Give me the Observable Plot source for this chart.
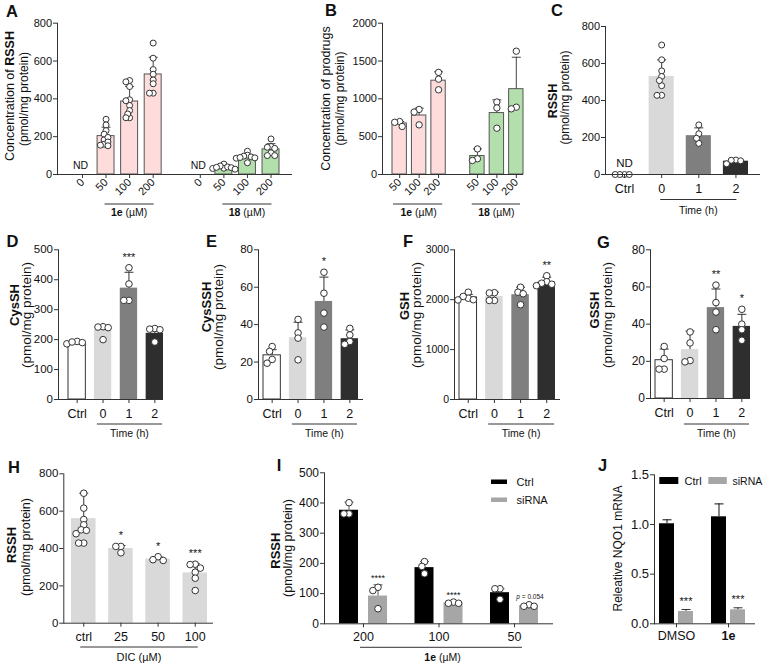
<!DOCTYPE html>
<html><head><meta charset="utf-8">
<script src="https://cdn.jsdelivr.net/npm/d3@7"></script>
<script src="https://cdn.jsdelivr.net/npm/@observablehq/plot@0.6"></script>
<style>
html,body{margin:0;padding:0;background:#fff;}
#fig{position:relative;width:764px;height:665px;overflow:hidden;background:#fff;font-family:"Liberation Sans",Arial,sans-serif;}
#fig svg{overflow:visible;}
</style></head>
<body><div id="fig"></div>
<script>
// ---------------- DATA ----------------
// Panel A: RSSH concentration (pmol/mg protein)
const aDoses = ["0", "50", "100", "200"];
const a1eMean = [null, 203, 386, 529];
const a1eSD = [null, 47, 79, 91];
const a1ePts = [[], [292,262,232,213,196,183,172,160,152,155], [497,490,465,395,390,365,338,320,300,300], [695,615,555,530,500,480,430,430]];
const a18Mean = [null, 38, 93, 133];
const a18SD = [null, 11, 13, 30];
const a18Pts = [[], [55,45,40,36,32,28,33,38], [123,102,97,93,90,86,62,88], [188,148,144,138,115,100,100]];
const aYTicks = [0, 200, 400, 600, 800];
// Panel B: prodrug concentration
const bDoses = ["50", "100", "200"];
const b1eMean = [675, 780, 1240];
const b1eSD = [25, 97, 117];
const b1ePts = [[700,690,635], [860,825,656], [1350,1260,1120]];
const b18Mean = [244, 812, 1128];
const b18SD = [95, 175, 422];
const b18Pts = [[338,185,208], [958,880,612], [1630,868,890]];
const bYTicks = [0, 500, 1000, 1500, 2000];
// Time-course categories (C-G)
const timeCats = ["Ctrl", "0", "1", "2"];
const cMean = [null, 530, 210, 72];
const cSD = [null, 90, 42, 9];
const cPts = [[0,0,0,0], [700,620,560,530,508,480,428,428], [268,220,196,168], [78,58,74,77]];
const cYTicks = [0, 200, 400, 600, 800];
const dMean = [190, 231, 372, 221];
const dSD = [5, 15, 53, 17];
const dPts = [[194,190,186,192], [243,242,240,200], [440,386,331,331], [237,235,233,192]];
const dStars = ["", "", "***", ""];
const dYTicks = [0, 100, 200, 300, 400, 500];
const eMean = [23.6, 33, 52.4, 32.5];
const eSD = [3, 8.3, 13, 4.7];
const ePts = [[28.3,25.7,21.4,19.4], [42.8,35.6,32.8,21.2], [68,56.8,46.2,38.7], [38,34.5,31,29.5]];
const eStars = ["", "", "*", ""];
const eYTicks = [0, 20, 40, 60, 80];
const fMean = [2045, 2062, 2100, 2352];
const fSD = [60, 88, 150, 98];
const fPts = [[2150,2065,2030,2000,1995], [2140,2135,1985,1985], [2250,2150,2120,1900], [2480,2360,2330,2310,2280]];
const fStars = ["", "", "", "**"];
const fYTicks = [0, 1000, 2000, 3000];
const gMean = [20.6, 26.3, 48.9, 38.8];
const gSD = [6, 10, 10, 6.5];
const gPts = [[28,21.5,15.8,15.8], [35.8,29.9,19.7,20.4], [61,51.6,46.5,37], [48,40,37,31.3]];
const gStars = ["", "", "**", "*"];
const gYTicks = [0, 20, 40, 60, 80];
// Panel H: DIC
const hCats = ["ctrl", "25", "50", "100"];
const hMean = [560, 400, 343, 269];
const hSD = [136, 16, 12, 50];
const hPts = [[696,616,555,527,500,497,479,429,429], [411,411,377], [356,336,340], [316,314,295,273,241,175]];
const hStars = ["", "*", "*", "***"];
const hYTicks = [0, 200, 400, 600, 800];
// Panel I: siRNA
const iDoses = ["200", "100", "50"];
const iCtrlMean = [376, 186, 103];
const iCtrlSD = [27, 20, 13];
const iCtrlPts = [[401,364,364], [206,190,166], [116,116,81]];
const iSiMean = [92, 69, 60];
const iSiSD = [37, 5, 3];
const iSiPts = [[121,110,50], [72,68,68], [63,58,58]];
const iSiLabels = ["****", "****", "p = 0.054"];
const iYTicks = [0, 100, 200, 300, 400, 500];
// Panel J: NQO1 mRNA
const jGroups = ["DMSO", "1e"];
const jCtrlMean = [1.007, 1.077];
const jCtrlSD = [0.04, 0.13];
const jSiMean = [0.124, 0.141];
const jSiSD = [0.02, 0.02];
const jSiLabels = ["***", "***"];
const jYTicks = [0, 0.5, 1.0, 1.5];

// ---------------- STYLE ----------------
const FONT = "'Liberation Sans', Arial, Helvetica, sans-serif";
const INK = "#111";
const AXC = "#333";
const PINK = "#fddcdb", GREEN = "#b3dfad", BARLINE = "#555";
const TIME_FILLS = ["#ffffff", "#d9d9d9", "#7f7f7f", "#2e2e2e"];
const TIME_STROKES = ["#333", "none", "none", "none"];
const fig = document.getElementById("fig");
const capSym = {draw(ctx, size) { const w = Math.sqrt(size / Math.PI); ctx.moveTo(-w, 0); ctx.lineTo(w, 0); }};

// beeswarm-style horizontal offsets (pixels) so that points at similar values sit side by side
function dodge(vals, yMax, fh, r, tight = 0.78) {
  const d = 2 * r * tight, s = d * 0.5;
  const order = d3.range(vals.length).sort((a, b) => d3.descending(vals[a], vals[b]));
  const placed = [], off = [];
  for (const i of order) {
    const py = vals[i] / yMax * fh;
    let k = 0, x = 0;
    while (true) {
      x = k === 0 ? 0 : (k % 2 ? -1 : 1) * Math.ceil(k / 2) * s;
      if (placed.every(p => Math.hypot(p.x - x, p.y - py) >= d)) break;
      k++;
    }
    placed.push({x, y: py});
    off[i] = Math.round(x * 10) / 10;
  }
  return off;
}

function geom(cfg) {
  const [L, T, W, H] = cfg.box, [x0, x1, y0, y1] = cfg.frame;
  return {L, T, W, H, ml: x0 - L, mr: L + W - x1, mt: y0 - T, mb: T + H - y1, fw: x1 - x0, fh: y1 - y0};
}

function basePlot(cfg, g, marks) {
  return Plot.plot({
    width: g.W, height: g.H,
    marginLeft: g.ml, marginRight: g.mr, marginTop: g.mt, marginBottom: g.mb,
    style: {fontFamily: FONT, color: INK, background: "transparent", overflow: "visible"},
    x: {type: "band", domain: cfg.domain, paddingInner: cfg.pI, paddingOuter: 0, insetLeft: cfg.insL, insetRight: cfg.insR, round: false},
    y: {domain: [0, cfg.yMax]},
    color: {type: "identity"},
    marks: [
      ...marks,
      Plot.ruleY([0], {stroke: AXC, strokeWidth: 1}),
      Plot.frame({anchor: "left", stroke: AXC, strokeWidth: 1}),
      Plot.axisY({ticks: cfg.yTicks, tickSize: 4, tickPadding: 1.5, fontSize: cfg.yFont, label: null, tickFormat: cfg.yFmt || "d", stroke: AXC}),
      Plot.axisX({ticks: cfg.tickKeys || cfg.domain, tickFormat: cfg.tickFormat || (d => d), tickRotate: cfg.rotate || 0, tickSize: 4, tickPadding: cfg.xPad ?? 6, fontSize: cfg.xFont, label: null, stroke: AXC})
    ]
  });
}

function mount(cfg, plot) {
  const [L, T, W, H] = cfg.box;
  const div = document.createElement("div");
  div.style.cssText = `position:absolute;left:${L}px;top:${T}px;width:${W}px;height:${H}px;`;
  div.appendChild(plot);
  fig.appendChild(div);
  const sel = d3.select(plot);
  const xs = plot.scale("x");
  return {
    cx: k => xs.apply(k) + xs.bandwidth / 2 + L,
    x0: k => xs.apply(k) + L,
    x1: k => xs.apply(k) + xs.bandwidth + L,
    text(gx, gy, parts, {size = 11, anchor = "middle", rotate = 0} = {}) {
      const x = gx - L, y = gy - T;
      const t = sel.append("text").attr("x", x).attr("y", y).attr("text-anchor", anchor)
        .attr("font-size", size).attr("font-family", FONT).attr("fill", INK);
      if (rotate) t.attr("transform", `rotate(${rotate} ${x} ${y})`);
      for (const p of parts) {
        const [s, st] = Array.isArray(p) ? p : [p, ""];
        const ts = t.append("tspan").text(s);
        if (st.includes("b")) ts.attr("font-weight", "bold");
        if (st.includes("i")) ts.attr("font-style", "italic");
      }
      return t;
    },
    line(gx1, gx2, gy) {
      sel.append("line").attr("x1", gx1 - L).attr("x2", gx2 - L).attr("y1", gy - T).attr("y2", gy - T)
        .attr("stroke", AXC).attr("stroke-width", 1);
    },
    rect(gx, gy, w, h, fill) {
      sel.append("rect").attr("x", gx - L).attr("y", gy - T).attr("width", w).attr("height", h).attr("fill", fill);
    },
    sel
  };
}

function ylabel(p, x1, y1, parts1, x2, y2, s1 = 12, s2 = 11.5) {
  p.text(x1, y1, parts1, {size: s1, rotate: -90});
  if (x2 != null) p.text(x2, y2, ["(pmol/mg protein)"], {size: s2, rotate: -90});
}
function letter(p, x, y, s) { p.text(x, y, [[s, "b"]], {size: 16.5, anchor: "start"}); }

// single-series bar panel with scatter points
function simplePanel(cfg) {
  const g = geom(cfg);
  const r = cfg.r ?? 3.2;
  const bars = cfg.rows.filter(d => d.m != null);
  const dots = [];
  cfg.rows.forEach(d => {
    const off = dodge(d.pts, cfg.yMax, g.fh, r, cfg.tight);
    d.pts.forEach((v, j) => dots.push({x: d.x, v, dx: off[j]}));
  });
  const errC = cfg.errColor || AXC;
  const top = d => Math.max(d.m + d.sd, d3.max(d.pts) ?? 0);
  const marks = [
    Plot.barY(bars, {x: "x", y: "m", fill: "fill", stroke: "stroke", strokeWidth: 1}),
    Plot.ruleX(bars, {x: "x", y1: "m", y2: d => d.m + d.sd, stroke: errC, strokeWidth: 1}),
    Plot.dot(bars, {x: "x", y: d => d.m + d.sd, symbol: capSym, r: cfg.cap ?? 4.5, stroke: errC, strokeWidth: 1, fill: "none"}),
    ...d3.groups(dots, d => d.dx).map(([dx, gg]) =>
      Plot.dot(gg, {x: "x", y: "v", dx, r, fill: "white", stroke: cfg.dotStroke || AXC, strokeWidth: 1})),
    Plot.text(bars.filter(d => d.star), {x: "x", y: top, text: "star", dy: cfg.starDy ?? -10.5, fontSize: cfg.starSize ?? 11, lineAnchor: "middle"}),
    Plot.text(cfg.rows.filter(d => d.m == null), {x: "x", y: d => 0, text: d => "ND", dy: cfg.ndDy ?? -9, dx: cfg.ndDx ?? 0, fontSize: cfg.ndSize ?? 10.5, lineAnchor: "middle"})
  ];
  const plot = basePlot(cfg, g, marks);
  return mount(cfg, plot);
}

// grouped (Ctrl vs siRNA) panel
function groupedPanel(cfg) {
  const g = geom(cfg);
  const n = cfg.domain.length;
  const step = (g.fw - cfg.insL - cfg.insR) / (n - cfg.pI);
  const bw = step * (1 - cfg.pI);
  const sb = cfg.subBar;
  const off = (bw - sb) / 2;
  const r = cfg.r ?? 3.2;
  const series = [
    {rows: cfg.ctrl, fill: "#000000", iL: 0, iR: bw - sb, dx: -off, err: cfg.ctrlErr},
    {rows: cfg.si, fill: "#a6a6a6", iL: bw - sb, iR: 0, dx: off, err: cfg.siErr}
  ];
  const marks = [];
  for (const s of series) {
    marks.push(
      Plot.barY(s.rows, {x: "x", y: "m", fill: s.fill, insetLeft: s.iL, insetRight: s.iR}),
      Plot.ruleX(s.rows, {x: "x", y1: "m", y2: d => d.m + d.sd, dx: s.dx, stroke: s.err, strokeWidth: 1}),
      Plot.dot(s.rows, {x: "x", y: d => d.m + d.sd, dx: s.dx, symbol: capSym, r: cfg.cap ?? 4.5, stroke: s.err, strokeWidth: 1, fill: "none"})
    );
    const dots = [];
    s.rows.forEach(d => {
      if (!d.pts) return;
      const o = dodge(d.pts, cfg.yMax, g.fh, r);
      d.pts.forEach((v, j) => dots.push({x: d.x, v, dx: Math.round((o[j] + s.dx) * 10) / 10}));
    });
    d3.groups(dots, d => d.dx).forEach(([dx, gg]) =>
      marks.push(Plot.dot(gg, {x: "x", y: "v", dx, r, fill: "white", stroke: AXC, strokeWidth: 1})));
  }
  const top = d => Math.max(d.m + d.sd, d.pts ? d3.max(d.pts) : 0);
  marks.push(
    Plot.text(cfg.si.filter(d => d.lab && d.lab.startsWith("*")), {x: "x", y: top, dx: off, text: "lab", dy: cfg.starDy, fontSize: cfg.starSize, lineAnchor: "middle"}),
    Plot.text(cfg.si.filter(d => d.lab && !d.lab.startsWith("*")), {x: "x", y: top, dx: off + 1, text: "lab", dy: -8, fontSize: 6.5, lineAnchor: "middle"})
  );
  const plot = basePlot(cfg, g, marks);
  return mount(cfg, plot);
}

// ---------------- PANEL A ----------------
{
  const k1 = aDoses.map(d => "1e|" + d), k2 = aDoses.map(d => "18|" + d);
  const rows = [
    ...k1.map((x, i) => ({x, m: a1eMean[i], sd: a1eSD[i], pts: a1ePts[i], fill: PINK, stroke: BARLINE})),
    ...k2.map((x, i) => ({x, m: a18Mean[i], sd: a18SD[i], pts: a18Pts[i], fill: GREEN, stroke: BARLINE}))
  ];
  const cfg = {box: [0, 0, 300, 218], frame: [57, 292, 22.7, 174], domain: [...k1, "gap", ...k2], tickKeys: [...k1, ...k2],
    tickFormat: k => k.split("|")[1], rotate: -45, xPad: 2, yMax: 800, yTicks: aYTicks, pI: 0.28, insL: 16.5, insR: 13,
    xFont: 11, yFont: 11, rows, r: 3.0, tight: 0.62, errColor: "#444", ndDy: -8.5, ndDx: -2, ndSize: 10.5};
  const p = simplePanel(cfg);
  p.line(p.cx(k1[1]) - 1, p.cx(k1[3]) + 1, 204);
  p.line(p.cx(k2[1]) - 1, p.cx(k2[3]) + 1, 204);
  p.text((p.cx(k1[1]) + p.cx(k1[3])) / 2, 216, [["1e", "b"], " (µM)"], {size: 10.5});
  p.text((p.cx(k2[1]) + p.cx(k2[3])) / 2, 216, [["18", "b"], " (µM)"], {size: 10.5});
  ylabel(p, 13.5, 96, ["Concentration of ", ["RSSH", "b"]], 28, 99, 12.5, 12);
  letter(p, 6, 16.7, "A");
}
// ---------------- PANEL B ----------------
{
  const k1 = bDoses.map(d => "1e|" + d), k2 = bDoses.map(d => "18|" + d);
  const rows = [
    ...k1.map((x, i) => ({x, m: b1eMean[i], sd: b1eSD[i], pts: b1ePts[i], fill: PINK, stroke: BARLINE})),
    ...k2.map((x, i) => ({x, m: b18Mean[i], sd: b18SD[i], pts: b18Pts[i], fill: GREEN, stroke: BARLINE}))
  ];
  const cfg = {box: [300, 0, 225, 218], frame: [382, 523, 22.7, 174], domain: [...k1, "gap", ...k2], tickKeys: [...k1, ...k2],
    tickFormat: k => k.split("|")[1], rotate: -45, xPad: 2, yMax: 2000, yTicks: bYTicks, pI: 0.26, insL: 10, insR: 0,
    xFont: 11, yFont: 11, rows, r: 3.2, errColor: "#444"};
  const p = simplePanel(cfg);
  p.line(p.x0(k1[0]) + 1, p.x1(k1[2]) - 3, 204);
  p.line(p.x0(k2[0]) + 2, p.x1(k2[2]) - 3, 204);
  p.text((p.x0(k1[0]) + p.x1(k1[2])) / 2, 216, [["1e", "b"], " (µM)"], {size: 10.5});
  p.text((p.x0(k2[0]) + p.x1(k2[2])) / 2, 216, [["18", "b"], " (µM)"], {size: 10.5});
  ylabel(p, 330, 98.5, ["Concentration of prodrugs"], 344, 98.5, 12.5, 12);
  letter(p, 325, 16, "B");
}
// ---------------- PANEL C ----------------
{
  const rows = timeCats.map((x, i) => ({x, m: cMean[i], sd: cSD[i], pts: cPts[i], fill: TIME_FILLS[i], stroke: "none"}));
  const cfg = {box: [525, 0, 239, 218], frame: [605, 760, 26, 174], domain: timeCats, yMax: 800, yTicks: cYTicks,
    pI: 0.324, insL: 6.5, insR: 12, xFont: 12.5, yFont: 11, rows, r: 3, ndDy: -11, ndSize: 11.5};
  const p = simplePanel(cfg);
  p.line(p.cx("0") - 1, p.cx("2") + 1, 199.5);
  p.text((p.cx("0") + p.cx("2")) / 2, 214, ["Time (h)"], {size: 10.5});
  ylabel(p, 556.7, 101, [["RSSH", "b"]], 568.5, 97.5, 12.5, 12);
  letter(p, 551, 16, "C");
}
// ---------------- PANELS D-G ----------------
function timePanel(box, frame, mean, sd, pts, stars, yMax, yTicks, yFont, insL, insR, lab, lx1, ly1, lx2, ly2, letterXY, letterS) {
  const rows = timeCats.map((x, i) => ({x, m: mean[i], sd: sd[i], pts: pts[i], fill: TIME_FILLS[i], stroke: TIME_STROKES[i], star: stars[i]}));
  const cfg = {box, frame, domain: timeCats, yMax, yTicks, pI: 0.33, insL, insR, xFont: 12.5, yFont, rows, r: 3.3, starDy: -10.5};
  const p = simplePanel(cfg);
  p.line(p.x0("0") + 3, p.x1("2") - 1, 424);
  p.text((p.x0("0") + p.x1("2")) / 2 + 1, 437, ["Time (h)"], {size: 10.5});
  ylabel(p, lx1, ly1, [[lab, "b"]], lx2, ly2, 13, 13.5);
  letter(p, letterXY[0], letterXY[1], letterS);
}
timePanel([0, 218, 200, 222], [58, 163, 249.3, 399], dMean, dSD, dPts, dStars, 500, dYTicks, 11.5, 10, 0, "CysSH", 18.5, 305, 30.5, 315, [6.5, 246.7], "D");
timePanel([200, 218, 190, 222], [258, 363, 249.3, 399], eMean, eSD, ePts, eStars, 80, eYTicks, 11.5, 5, 5, "CysSSH", 210.5, 307, 223, 317, [206, 246.7], "E");
timePanel([390, 218, 190, 222], [454, 560, 249.3, 399], fMean, fSD, fPts, fStars, 3000, fYTicks, 10.5, 5, 5, "GSH", 409, 306, 421, 315, [403, 246.7], "F");
timePanel([580, 218, 184, 222], [650, 750, 249.3, 398], gMean, gSD, gPts, gStars, 80, gYTicks, 12, 5, 0, "GSSH", 599, 310, 611.5, 315, [597, 247.7], "G");
// ---------------- PANEL H ----------------
{
  const rows = hCats.map((x, i) => ({x, m: hMean[i], sd: hSD[i], pts: hPts[i], fill: "#d9d9d9", stroke: "none", star: hStars[i]}));
  const cfg = {box: [0, 440, 250, 225], frame: [63.3, 213, 473.3, 622.7], domain: hCats, yMax: 800, yTicks: hYTicks,
    pI: 0.34, insL: 7.7, insR: 6, xFont: 12.5, yFont: 11.5, rows, r: 3.3, starDy: -10.5, xPad: 5};
  const p = simplePanel(cfg);
  p.line(p.cx("ctrl") - 3, p.cx("100") + 3, 647);
  p.text((p.cx("ctrl") + p.cx("100")) / 2, 661, ["DIC (µM)"], {size: 11});
  ylabel(p, 16, 545, [["RSSH", "b"]], 29.5, 547, 13, 12.5);
  letter(p, 8, 472.7, "H");
}
// ---------------- PANEL I ----------------
{
  const ctrl = iDoses.map((x, i) => ({x, m: iCtrlMean[i], sd: iCtrlSD[i], pts: iCtrlPts[i]}));
  const si = iDoses.map((x, i) => ({x, m: iSiMean[i], sd: iSiSD[i], pts: iSiPts[i], lab: iSiLabels[i]}));
  const cfg = {box: [250, 440, 305, 225], frame: [324, 553, 472.3, 623.3], domain: iDoses, yMax: 500, yTicks: iYTicks,
    pI: 0.364, insL: 15, insR: 15, xFont: 12.5, yFont: 12, subBar: 19, ctrl, si, ctrlErr: "#555", siErr: "#555",
    starDy: -6.7, starSize: 9, r: 3.3, xPad: 4.5};
  const p = groupedPanel(cfg);
  p.line(p.cx("200") - 3, p.cx("50") + 8, 647.3);
  p.text((p.cx("200") + p.cx("50")) / 2 + 4, 661, [["1e", "b"], " (µM)"], {size: 10.5});
  p.sel.selectAll("text").filter(function() { return this.textContent === "p = 0.054"; }).each(function() {
    const t = d3.select(this); t.text(null);
    t.append("tspan").attr("font-style", "italic").text("p");
    t.append("tspan").text(" = 0.054");
  });
  p.rect(491, 479.5, 16, 4.5, "#000000");
  p.rect(491, 497.5, 16, 4.5, "#a6a6a6");
  p.text(516.5, 485.5, ["Ctrl"], {size: 11, anchor: "start"});
  p.text(516.5, 503.5, ["siRNA"], {size: 11, anchor: "start"});
  ylabel(p, 280, 550.7, [["RSSH", "b"]], 292, 548, 13, 12.5);
  letter(p, 276.7, 470.7, "I");
}
// ---------------- PANEL J ----------------
{
  const ctrl = jGroups.map((x, i) => ({x, m: jCtrlMean[i], sd: jCtrlSD[i]}));
  const si = jGroups.map((x, i) => ({x, m: jSiMean[i], sd: jSiSD[i], lab: jSiLabels[i]}));
  const cfg = {box: [530, 440, 234, 225], frame: [654, 755, 474.3, 623.3], domain: jGroups, yMax: 1.5, yTicks: jYTicks,
    yFmt: ".1f", pI: 0.346, insL: 5, insR: 10, xFont: 12.5, yFont: 13, subBar: 15, ctrl, si, ctrlErr: "#111", siErr: "#333",
    starDy: -8.5, starSize: 11, cap: 4.5, xPad: 3};
  const p = groupedPanel(cfg);
  p.sel.selectAll("text").filter(function() { return this.textContent === "1e"; }).attr("font-weight", "bold");
  p.rect(659.3, 477, 19, 7, "#000000");
  p.rect(708.3, 477, 18.5, 7, "#a6a6a6");
  p.text(684.5, 485, ["Ctrl"], {size: 11, anchor: "start"});
  p.text(732.5, 485, ["siRNA"], {size: 10.5, anchor: "start"});
  p.text(621.5, 548.5, ["Releative NQO1 mRNA"], {size: 12, rotate: -90});
  letter(p, 598, 470.7, "J");
}
</script>
</body></html>
